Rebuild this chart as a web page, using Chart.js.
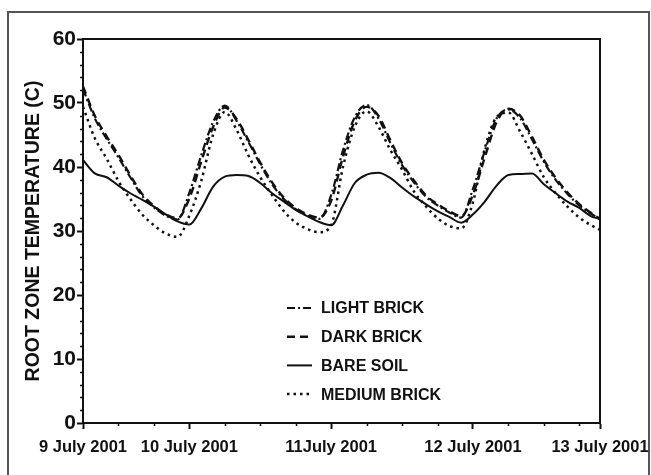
<!DOCTYPE html>
<html>
<head>
<meta charset="utf-8">
<script src="https://cdn.jsdelivr.net/npm/chart.js@4/dist/chart.umd.min.js"></script>
<style>
  html, body { margin: 0; padding: 0; background: #fff; }
  #wrap { position: relative; width: 651px; height: 475px; overflow: hidden; }
  #frame { position: absolute; left: 7px; top: 11px; width: 643px; height: 480px; border: 2px solid #555; box-sizing: border-box; }
  canvas { position: absolute; left: 0; top: 0; }
</style>
</head>
<body>
<div id="wrap">
  <div id="frame"></div>
  <canvas id="chartCanvas" width="651" height="475"></canvas>
</div>
<script>
// hours since 9 July 2001 00:00
const hours = [6, 8, 10, 12, 14, 16, 18, 20, 22, 24, 26, 28, 30, 32, 34, 36, 38, 40, 42, 44, 46, 48,
  50, 52, 54, 56, 58, 60, 62, 64, 66, 68, 70, 72, 74, 76, 78, 80, 82, 84, 86, 88, 90, 92, 93.5];

const lightBrick = [52.2, 47.6, 44.4, 41.5, 38.4, 35.5, 33.7, 32.4, 31.8, 36.0, 41.8, 47.0, 49.6, 47.2, 43.9,
  40.4, 37.3, 35.0, 33.4, 32.4, 31.9, 35.6, 42.6, 47.8, 49.7, 47.6, 43.8, 40.3, 37.6, 35.4, 34.0, 32.9, 32.1,
  36.6, 42.5, 47.6, 49.0, 47.6, 44.3, 40.8, 38.0, 35.8, 34.0, 32.7, 31.8];
const darkBrick = [52.6, 48.0, 44.8, 41.9, 38.7, 35.8, 33.9, 32.6, 32.0, 35.1, 40.8, 46.2, 49.3, 47.5, 44.2,
  40.7, 37.6, 35.2, 33.6, 32.6, 32.1, 34.7, 41.6, 47.2, 49.4, 48.0, 44.2, 40.6, 37.9, 35.6, 34.2, 33.1, 32.3,
  35.7, 41.5, 47.0, 49.1, 48.0, 44.7, 41.1, 38.3, 36.0, 34.2, 32.8, 31.9];
const bareSoil = [41.1, 39.0, 38.4, 37.1, 35.9, 34.9, 33.8, 32.6, 31.5, 31.0, 33.5, 36.9, 38.5, 38.75, 38.6,
  37.5, 35.9, 34.6, 33.3, 32.3, 31.4, 30.9, 34.0, 37.5, 38.8, 39.1, 38.3, 36.8, 35.4, 34.2, 33.1, 32.2, 31.3,
  32.6, 34.6, 37.1, 38.75, 38.9, 39.0, 37.3, 35.9, 34.6, 33.6, 32.3, 31.9];
const mediumBrick = [49.4, 44.5, 41.3, 37.8, 35.0, 32.6, 30.9, 29.6, 29.1, 32.4, 37.8, 45.0, 48.6, 45.8, 41.8,
  38.4, 35.6, 33.1, 31.3, 30.3, 29.8, 30.9, 40.0, 46.3, 48.7, 46.3, 42.7, 39.6, 36.2, 33.9, 32.0, 30.8, 30.4,
  34.5, 42.9, 47.8, 48.5, 45.5, 42.0, 38.4, 35.9, 33.8, 32.1, 30.9, 30.2];

const tickHours  = [6, 24, 48, 72, 93.5];
const tickLabels = ['9 July 2001', '10 July 2001', '11July 2001', '12 July 2001', '13 July 2001'];
const minorHours = [12, 18, 30, 36, 42, 54, 60, 66, 78, 84, 90];

const ink = '#111';
const fontFamily = '"Liberation Sans", Arial, sans-serif';
const toPoints = arr => hours.map((h, i) => ({ x: h, y: arr[i] }));

const series = [
  { label: 'LIGHT BRICK',  data: lightBrick,  dash: [8, 3, 2, 3], width: 2.2 },
  { label: 'DARK BRICK',   data: darkBrick,   dash: [8, 5],       width: 2.4 },
  { label: 'BARE SOIL',    data: bareSoil,    dash: [],           width: 2 },
  { label: 'MEDIUM BRICK', data: mediumBrick, dash: [2.5, 4],     width: 2.5 },
];

// box, minor ticks and the in-plot legend
const extras = {
  id: 'extras',
  afterDraw(chart) {
    const { ctx, chartArea: a, scales } = chart;
    ctx.save();
    ctx.strokeStyle = ink;
    ctx.lineWidth = 2;
    ctx.strokeRect(a.left, a.top, a.right - a.left, a.bottom - a.top);

    ctx.lineWidth = 1.5;
    ctx.beginPath();
    for (let v = 2; v < 60; v += 2) {
      if (v % 10 === 0) continue;
      const y = Math.round(scales.y.getPixelForValue(v)) + 0.5;
      ctx.moveTo(a.left - 3, y);
      ctx.lineTo(a.left, y);
    }
    minorHours.forEach(h => {
      const x = Math.round(scales.x.getPixelForValue(h)) + 0.5;
      ctx.moveTo(x, a.bottom);
      ctx.lineTo(x, a.bottom + 3);
    });
    ctx.stroke();

    // legend
    const lx = a.left + 204, ly = a.top + 269, rowH = 28.7;
    ctx.font = 'bold 16px ' + fontFamily;
    ctx.fillStyle = ink;
    ctx.textBaseline = 'middle';
    series.forEach((s, i) => {
      const y = ly + i * rowH;
      ctx.lineWidth = s.width;
      ctx.setLineDash(s.dash);
      ctx.beginPath();
      ctx.moveTo(lx, y);
      ctx.lineTo(lx + 25, y);
      ctx.stroke();
      ctx.setLineDash([]);
      ctx.fillText(s.label, lx + 34, y + 1);
    });
    ctx.restore();
  }
};

const ctx = document.getElementById('chartCanvas').getContext('2d');
new Chart(ctx, {
  type: 'line',
  data: {
    datasets: series.map(s => ({
      label: s.label,
      data: toPoints(s.data),
      borderColor: ink,
      borderWidth: s.width,
      borderDash: s.dash,
      pointRadius: 0,
      cubicInterpolationMode: 'monotone',
      fill: false,
    })),
  },
  options: {
    responsive: false,
    animation: false,
    layout: { padding: { left: 22, top: 39, right: 51, bottom: 0 } },
    plugins: {
      legend: { display: false },
      tooltip: { enabled: false },
    },
    scales: {
      x: {
        type: 'linear',
        min: tickHours[0],
        max: tickHours[tickHours.length - 1],
        afterBuildTicks: scale => { scale.ticks = tickHours.map(v => ({ value: v })); },
        afterFit: scale => {
          scale.height = 52;
          scale.paddingLeft = 0;
          scale.paddingRight = 0;
        },
        ticks: {
          autoSkip: false,
          maxRotation: 0,
          padding: 9,
          color: ink,
          font: { family: fontFamily, size: 16.5, weight: 'bold' },
          callback: (v, i) => tickLabels[i],
        },
        grid: { drawOnChartArea: false, drawTicks: true, tickLength: 6, tickWidth: 2, tickColor: ink },
        border: { display: true, width: 2, color: ink },
      },
      y: {
        min: 0,
        max: 60,
        afterFit: scale => { scale.width = 61; },
        ticks: {
          stepSize: 10,
          padding: 1,
          color: ink,
          font: { family: fontFamily, size: 21, weight: 'bold' },
        },
        title: {
          display: true,
          text: 'ROOT ZONE TEMPERATURE (C)',
          color: ink,
          padding: { top: 0, bottom: 0 },
          font: { family: fontFamily, size: 19.5, weight: 'bold' },
        },
        grid: { drawOnChartArea: false, drawTicks: true, tickLength: 6, tickWidth: 2, tickColor: ink },
        border: { display: true, width: 2, color: ink },
      },
    },
  },
  plugins: [extras],
});
</script>
</body>
</html>
